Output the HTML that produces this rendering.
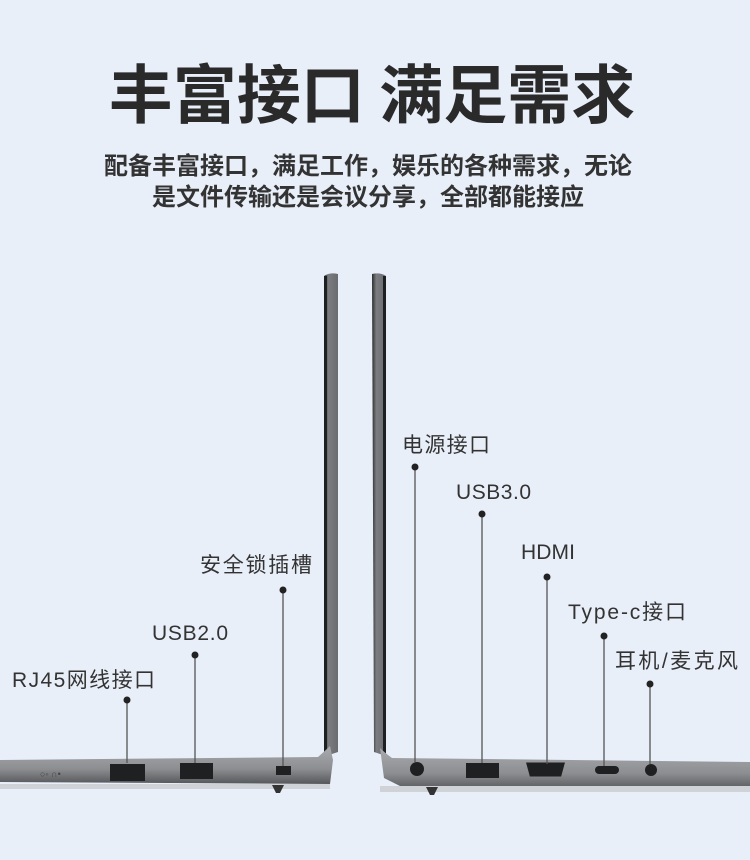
<!DOCTYPE html>
<html><head><meta charset="utf-8"><style>
body{margin:0;width:750px;height:860px;background:#e9eff9;overflow:hidden;font-family:"Liberation Sans","Noto Sans CJK SC",sans-serif}
</style></head><body>
<svg width="750" height="860" viewBox="0 0 750 860" xmlns="http://www.w3.org/2000/svg" style="display:block">
<defs>
<linearGradient id="b" x1="0" y1="0" x2="0" y2="1"><stop offset="0" stop-color="#a9abae"/><stop offset="0.6" stop-color="#8c8e91"/><stop offset="1" stop-color="#55575a"/></linearGradient>
<linearGradient id="s" x1="0" y1="0" x2="1" y2="0"><stop offset="0" stop-color="#2a2b2d"/><stop offset="0.3" stop-color="#7a7c7f"/><stop offset="1" stop-color="#6a6c6f"/></linearGradient>
</defs>
<rect width="750" height="860" fill="#e9eff9"/>
<text x="372" y="118" font-size="64" font-weight="bold" fill="#2a2a2a" text-anchor="middle" font-family="Noto Sans CJK SC, sans-serif">丰富接口 满足需求</text>
<text x="368" y="174" font-size="24" font-weight="bold" fill="#333" text-anchor="middle" font-family="Noto Sans CJK SC, sans-serif">配备丰富接口，满足工作，娱乐的各种需求，无论</text>
<text x="368" y="205" font-size="24" font-weight="bold" fill="#333" text-anchor="middle" font-family="Noto Sans CJK SC, sans-serif">是文件传输还是会议分享，全部都能接应</text>
<!-- left laptop -->
<path d="M324 276 Q330 272 338 274 L338 752 L326 756 Z" fill="url(#s)"/>
<rect x="324" y="276" width="3" height="480" fill="#1e1f21"/>
<path d="M0 760 L318 757 Q326 750 330 746 L333 760 L330 784 L0 782 Z" fill="url(#b)"/>
<rect x="0" y="784" width="330" height="5" fill="#cfd2d6"/>
<path d="M272 785 L284 785 L280 793 L276 793 Z" fill="#333"/>
<rect x="110" y="764" width="35" height="17" fill="#1f2022"/>
<rect x="180" y="763" width="33" height="16" fill="#1f2022"/>
<rect x="276" y="766" width="15" height="9" fill="#1f2022"/>
<text x="40" y="777" font-size="9" fill="#444">○◦ ∩•</text>
<!-- right laptop -->
<path d="M372 274 Q380 272 386 276 L386 756 L374 752 Z" fill="url(#s)"/>
<rect x="383" y="276" width="3" height="480" fill="#1e1f21"/>
<path d="M380 748 Q384 752 392 758 L750 762 L750 790 L400 786 L384 778 Z" fill="url(#b)"/>
<rect x="380" y="786" width="370" height="6" fill="#cfd2d6"/>
<path d="M426 787 L438 787 L434 795 L430 795 Z" fill="#333"/>
<circle cx="417" cy="769" r="7" fill="#1f2022"/>
<rect x="466" y="763" width="33" height="15" fill="#1f2022"/>
<path d="M528 764 L563 764 L560 775 L531 775 Z" fill="#1f2022" stroke="#1f2022" stroke-width="3"/>
<rect x="595" y="766" width="24" height="8" rx="4" fill="#1f2022"/>
<circle cx="651" cy="770" r="6" fill="#1f2022"/>
<!-- callouts -->
<g stroke="#555" stroke-width="1.3" fill="none">
<line x1="127" y1="700" x2="127" y2="763"/>
<line x1="195" y1="655" x2="195" y2="763"/>
<line x1="283" y1="590" x2="283" y2="766"/>
<line x1="415" y1="467" x2="415" y2="762"/>
<line x1="482" y1="514" x2="482" y2="763"/>
<line x1="547" y1="577" x2="547" y2="764"/>
<line x1="604" y1="636" x2="604" y2="766"/>
<line x1="650" y1="684" x2="650" y2="764"/>
</g>
<g fill="#222">
<circle cx="127" cy="700" r="3.5"/><circle cx="195" cy="655" r="3.5"/><circle cx="283" cy="590" r="3.5"/>
<circle cx="415" cy="467" r="3.5"/><circle cx="482" cy="514" r="3.5"/><circle cx="547" cy="577" r="3.5"/>
<circle cx="604" cy="636" r="3.5"/><circle cx="650" cy="684" r="3.5"/>
</g>
<g font-size="21" fill="#333" font-family="Liberation Sans, Noto Sans CJK SC, sans-serif">
<text x="200" y="572" textLength="112">安全锁插槽</text>
<text x="152" y="640" textLength="76">USB2.0</text>
<text x="12" y="687" textLength="143">RJ45网线接口</text>
<text x="402" y="452" textLength="88">电源接口</text>
<text x="456" y="499" textLength="75">USB3.0</text>
<text x="521" y="559" textLength="54">HDMI</text>
<text x="568" y="619" textLength="118">Type-c接口</text>
<text x="615" y="668" textLength="123">耳机/麦克风</text>
</g>
</svg>
</body></html>
